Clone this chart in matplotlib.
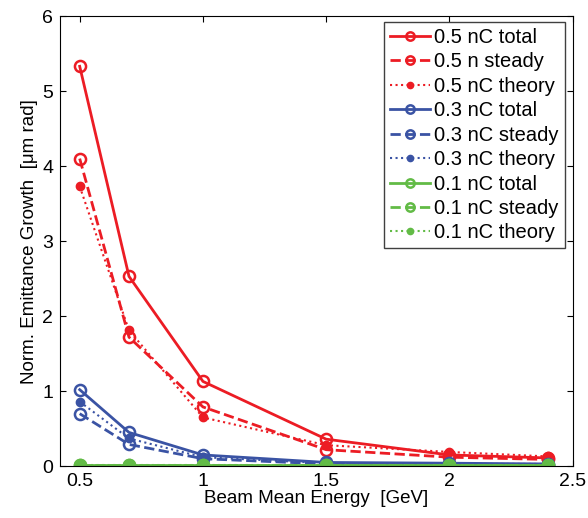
import matplotlib
matplotlib.use('Agg')
import matplotlib.pyplot as plt

plt.rcParams['font.family'] = ['Liberation Sans', 'DejaVu Sans']

energy = [0.5, 0.7, 1.0, 1.5, 2.0, 2.4]

red_total = [5.33, 2.53, 1.13, 0.36, 0.15, 0.11]
red_steady = [4.1, 1.72, 0.79, 0.22, 0.12, 0.09]
red_theory = [3.73, 1.81, 0.65, 0.28, 0.19, 0.13]

blue_total = [1.02, 0.45, 0.15, 0.05, 0.04, 0.03]
blue_steady = [0.70, 0.29, 0.10, 0.03, 0.02, 0.02]
blue_theory = [0.86, 0.37, 0.12, 0.04, 0.03, 0.03]

green_total = [0.01, 0.01, 0.01, 0.01, 0.01, 0.01]
green_steady = [0.01, 0.01, 0.01, 0.01, 0.01, 0.01]
green_theory = [0.01, 0.01, 0.01, 0.01, 0.01, 0.01]

labels = ['0.5 nC total', '0.5 n steady', '0.5 nC theory',
          '0.3 nC total', '0.3 nC steady', '0.3 nC theory',
          '0.1 nC total', '0.1 nC steady', '0.1 nC theory']

red = '#ec1c24'
blue = '#3a53a4'
green = '#62bb46'

fig = plt.figure(figsize=(5.88, 5.18), dpi=100)
ax = fig.add_axes([0.102, 0.1, 0.872, 0.869])

groups = [(red, red_total, red_steady, red_theory),
          (blue, blue_total, blue_steady, blue_theory),
          (green, green_total, green_steady, green_theory)]
i = 0
for c, tot, st, th in groups:
    ax.plot(energy, tot, '-', color=c, lw=2, marker='o', ms=8, mfc='none', mew=1.8, label=labels[i])
    ax.plot(energy, st, '--', color=c, lw=2, marker='o', ms=8, mfc='none', mew=1.8, label=labels[i + 1])
    ax.plot(energy, th, ':', color=c, lw=1.5, marker='o', ms=6, mfc=c, mew=1, label=labels[i + 2])
    i += 3

ax.set_xlim(0.42, 2.5)
ax.set_ylim(0, 6)
ax.set_xticks([0.5, 1, 1.5, 2, 2.5])
ax.set_xticklabels(['0.5', '1', '1.5', '2', '2.5'])
ax.set_yticks([0, 1, 2, 3, 4, 5, 6])
ax.tick_params(direction='in', labelsize=14, top=True, right=True, length=4, pad=5)
ax.set_xlabel('Beam Mean Energy  [GeV]', fontsize=13.5, labelpad=0)
ax.set_ylabel('Norm. Emittance Growth  [\u03bcm rad]', fontsize=13.5, labelpad=3)

leg = ax.legend(loc='upper right', fontsize=14.5, handlelength=2.0, handletextpad=0.2,
                labelspacing=0.27, borderpad=0.3, borderaxespad=0, fancybox=False,
                framealpha=1, edgecolor='#404040', bbox_to_anchor=(0.985, 0.987),
                markerscale=0.75)

fig.savefig('out.png', dpi=100)
